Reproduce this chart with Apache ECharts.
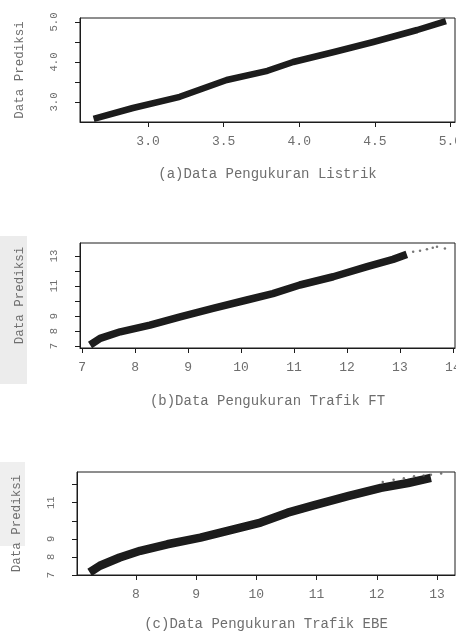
<!DOCTYPE html>
<html>
<head>
<meta charset="utf-8">
<script src="https://cdn.jsdelivr.net/npm/echarts@6/dist/echarts.min.js"></script>
<style>
html,body{margin:0;padding:0;background:#fff;}
#c{width:456px;height:632px;}
</style>
</head>
<body>
<div id="c"></div>
<script>
// ---- Panel (a): Data Pengukuran Listrik ----
const listrikMeasured  = [2.64, 2.90, 3.21, 3.52, 3.79, 3.96, 4.23, 4.49, 4.78, 4.97];
const listrikPredicted = [2.58, 2.85, 3.13, 3.55, 3.78, 4.00, 4.25, 4.50, 4.80, 5.02];
const listrikXTicks = [3.0, 3.5, 4.0, 4.5, 5.0];
const listrikYTicks = [3.0, 3.5, 4.0, 4.5, 5.0];
const listrikYLabels = [3.0, 4.0, 5.0];

// ---- Panel (b): Data Pengukuran Trafik FT ----
const ftMeasured  = [7.15, 7.34, 7.72, 8.28, 8.85, 9.47, 10.11, 10.60, 11.11, 11.74, 12.38, 12.87, 13.13];
const ftPredicted = [7.07, 7.51, 7.95, 8.40, 8.95, 9.51, 10.07, 10.50, 11.07, 11.62, 12.29, 12.78, 13.11];
const ftTailMeasured  = [13.25, 13.38, 13.51, 13.62, 13.70, 13.85];
const ftTailPredicted = [13.29, 13.36, 13.45, 13.55, 13.62, 13.51];
const ftXTicks = [7, 8, 9, 10, 11, 12, 13, 14];
const ftYTicks = [7, 8, 9, 10, 11, 12, 13];
const ftYLabels = [7, 8, 9, 11, 13];

// ---- Panel (c): Data Pengukuran Trafik EBE ----
const ebeMeasured  = [7.23, 7.40, 7.73, 8.07, 8.52, 9.07, 9.62, 10.07, 10.52, 10.95, 11.52, 12.07, 12.52, 12.90];
const ebePredicted = [7.15, 7.51, 7.97, 8.34, 8.70, 9.07, 9.53, 9.90, 10.45, 10.85, 11.36, 11.82, 12.09, 12.37];
const ebeTailMeasured  = [12.10, 12.28, 12.45, 12.62, 12.78, 12.90, 13.07];
const ebeTailPredicted = [12.15, 12.27, 12.36, 12.46, 12.50, 12.55, 12.62];
const ebeXTicks = [8, 9, 10, 11, 12, 13];
const ebeYTicks = [7, 8, 9, 10, 11, 12];
const ebeYLabels = [7, 8, 9, 11];

const titles = ['(a)Data Pengukuran Listrik', '(b)Data Pengukuran Trafik FT', '(c)Data Pengukuran Trafik EBE'];
const yTitle = 'Data Prediksi';

const zip = (a, b) => a.map((v, i) => [v, b[i]]);
const FONT = 'Liberation Mono';
const TXT = '#6e6e6e';
const INK = '#1c1c1c';

function xAxisOf(idx, min, max, ticks, dec, gap) {
  return {
    gridIndex: idx, type: 'value', min: min, max: max,
    name: titles[idx], nameLocation: 'middle', nameGap: gap,
    nameTextStyle: {fontFamily: FONT, fontSize: 14, color: TXT},
    axisLine: {show: true, lineStyle: {color: INK, width: 1}},
    axisTick: {show: true, length: 5, customValues: ticks, lineStyle: {color: INK}},
    axisLabel: {customValues: ticks, margin: 13, fontFamily: FONT, fontSize: 13, color: TXT,
      formatter: v => v.toFixed(dec)},
    splitLine: {show: false}
  };
}
function yAxisOf(idx, min, max, ticks, labels, dec) {
  return {
    gridIndex: idx, type: 'value', min: min, max: max,
    name: yTitle, nameLocation: 'middle', nameGap: 54, nameRotate: 90,
    nameTextStyle: {fontFamily: FONT, fontSize: 12.5, color: TXT},
    axisLine: {show: true, lineStyle: {color: INK, width: 1}},
    axisTick: {show: true, length: 5, customValues: ticks, lineStyle: {color: INK}},
    axisLabel: {customValues: labels, rotate: 90, margin: 20, fontFamily: FONT, fontSize: 10.5, color: TXT,
      formatter: v => v.toFixed(dec)},
    splitLine: {show: false}
  };
}
function band(idx, xs, ys, w) {
  return {type: 'line', xAxisIndex: idx, yAxisIndex: idx, data: zip(xs, ys), showSymbol: false,
    lineStyle: {color: INK, width: w, cap: 'butt', join: 'round'}, silent: true, z: 3};
}
function tail(idx, xs, ys) {
  return {type: 'scatter', xAxisIndex: idx, yAxisIndex: idx, data: zip(xs, ys), symbolSize: 2.5,
    itemStyle: {color: '#555'}, silent: true, z: 3};
}

const gridBase = {show: true, borderColor: INK, borderWidth: 1, backgroundColor: 'transparent', outerBoundsMode: 'none', containLabel: false};

const chart = echarts.init(document.getElementById('c'), null, {renderer: 'canvas'});
chart.setOption({
  animation: false,
  backgroundColor: '#ffffff',
  graphic: [
    {type: 'rect', left: 0, top: 236, shape: {width: 27, height: 148}, style: {fill: '#ececec'}, z: -10},
    {type: 'rect', left: 0, top: 462, shape: {width: 25, height: 84}, style: {fill: '#efefef'}, z: -10}
  ],
  grid: [
    Object.assign({left: 80, top: 18, width: 375, height: 104}, gridBase),
    Object.assign({left: 80, top: 243, width: 375, height: 105}, gridBase),
    Object.assign({left: 77, top: 472, width: 378, height: 103}, gridBase)
  ],
  xAxis: [
    xAxisOf(0, 2.55, 5.03, listrikXTicks, 1, 45),
    xAxisOf(1, 6.96, 14.04, ftXTicks, 0, 46),
    xAxisOf(2, 7.02, 13.30, ebeXTicks, 0, 42)
  ],
  yAxis: [
    yAxisOf(0, 2.50, 5.10, listrikYTicks, listrikYLabels, 1),
    yAxisOf(1, 6.87, 13.87, ftYTicks, ftYLabels, 0),
    yAxisOf(2, 7.00, 12.70, ebeYTicks, ebeYLabels, 0)
  ],
  series: [
    band(0, listrikMeasured, listrikPredicted, 6.5),
    band(1, ftMeasured, ftPredicted, 7.5),
    tail(1, ftTailMeasured, ftTailPredicted),
    band(2, ebeMeasured, ebePredicted, 8.5),
    tail(2, ebeTailMeasured, ebeTailPredicted)
  ]
});
</script>
</body>
</html>
